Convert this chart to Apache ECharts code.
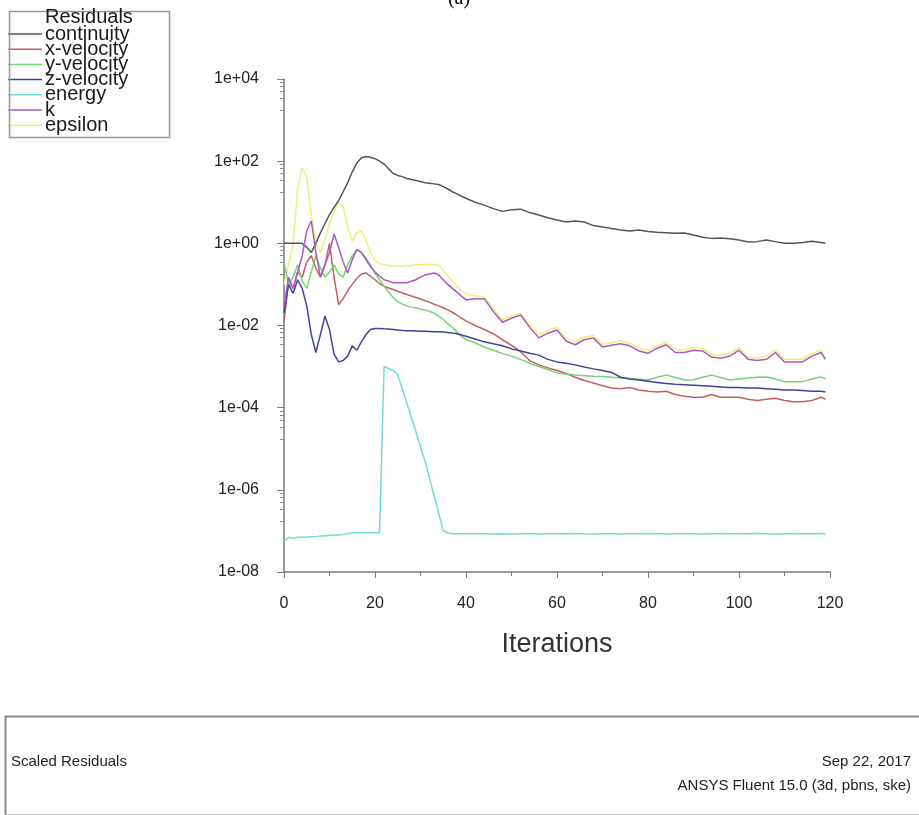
<!DOCTYPE html>
<html>
<head>
<meta charset="utf-8">
<script src="https://cdn.jsdelivr.net/npm/echarts@6/dist/echarts.min.js"></script>
<style>
html,body{margin:0;padding:0;background:#fff;}
#c{width:919px;height:815px;}
</style>
</head>
<body>
<div id="c"></div>
<script>
// ---- data ----
var iterations = [0,1,2,3,4,5,6,7,8,9,10,11,12,13,14,15,16,17,18,19,20,21,22,23,24,25,26,27,28,29,30,31,32,33,34,35,36,37,38,39,40,
  42,44,46,48,50,52,54,56,58,60,62,64,66,68,70,72,74,76,78,80,82,84,86,88,90,92,94,96,98,100,102,104,106,108,110,112,114,116,118,119];

var seriesNames = ['continuity','x-velocity','y-velocity','z-velocity','energy','k','epsilon'];
var xTickLabels = [0,20,40,60,80,100,120];

var continuity = [1,1,1,1,1,0.8,0.6,1.0,1.8,3,5,7.5,11,18,30,55,90,120,130,125,115,100,85,65,50,45,42,38,36,34,32,30,29,28,27,24,21,18,16,14,12.5,
  10,8.5,7,6.0,6.6,6.8,5.6,4.9,4.2,3.7,3.3,3.5,3.3,2.7,2.5,2.3,2.1,2.0,2.1,1.95,1.85,1.8,1.75,1.78,1.6,1.4,1.32,1.35,1.3,1.2,1.08,1.1,1.2,1.1,1.0,1.0,1.05,1.12,1.05,1.0];

var xVelocity = [0.012,0.12,0.08,0.2,0.15,0.35,0.5,0.25,0.15,0.3,1.0,0.15,0.032,0.045,0.07,0.1,0.14,0.18,0.19,0.16,0.13,0.105,0.09,0.082,0.075,0.068,0.062,0.057,0.052,0.048,0.044,0.04,0.037,0.033,0.03,0.027,0.024,0.021,0.018,0.015,0.013,
  0.01,0.008,0.0063,0.0045,0.0033,0.0023,0.0014,0.0011,0.00093,0.0008,0.00068,0.00055,0.00046,0.0004,0.00034,0.0003,0.00029,0.00031,0.00027,0.00025,0.00024,0.00025,0.00021,0.00019,0.00018,0.00018,0.00021,0.00018,0.00018,0.00018,0.00016,0.00015,0.00016,0.00017,0.00015,0.00014,0.00014,0.00015,0.00018,0.00016];

var yVelocity = [0.35,0.1,0.15,0.3,0.12,0.08,0.2,0.5,0.25,0.15,0.2,0.3,0.18,0.15,0.3,0.5,0.7,0.6,0.45,0.3,0.19,0.13,0.09,0.065,0.048,0.038,0.033,0.03,0.028,0.027,0.025,0.024,0.022,0.02,0.017,0.014,0.011,0.009,0.007,0.0055,0.0045,
  0.0038,0.003,0.0025,0.0021,0.0018,0.0015,0.0012,0.001,0.00085,0.0007,0.00066,0.00062,0.0006,0.00058,0.00057,0.00055,0.00053,0.00051,0.00049,0.00047,0.00055,0.00062,0.00054,0.00047,0.00048,0.00055,0.00062,0.00054,0.00047,0.0005,0.00053,0.00055,0.00056,0.0005,0.00043,0.00043,0.00043,0.0005,0.00056,0.0005];

var zVelocity = [0.02,0.1,0.06,0.13,0.08,0.03,0.006,0.0022,0.006,0.017,0.008,0.002,0.0013,0.0014,0.0018,0.0032,0.0025,0.004,0.006,0.008,0.0085,0.0085,0.0083,0.0082,0.008,0.0078,0.0076,0.0075,0.0074,0.0073,0.0072,0.0072,0.0071,0.007,0.007,0.0069,0.0068,0.0066,0.0063,0.0059,0.0055,
  0.0047,0.004,0.0036,0.0032,0.0027,0.0024,0.0021,0.0019,0.0015,0.0013,0.0012,0.0011,0.00098,0.00088,0.0008,0.00072,0.00055,0.0005,0.00047,0.00044,0.00041,0.00039,0.00037,0.00036,0.00035,0.00034,0.00033,0.00032,0.00031,0.00031,0.0003,0.0003,0.00029,0.00028,0.00027,0.00027,0.00026,0.00025,0.00025,0.00024];

var energy = [5.5e-8,7e-8,6.5e-8,7e-8,7e-8,7e-8,7.2e-8,7.2e-8,7.5e-8,7.5e-8,7.8e-8,8e-8,8e-8,8.2e-8,8.5e-8,9e-8,9e-8,9e-8,9e-8,9e-8,9e-8,9.2e-8,1.0e-3,9e-4,8e-4,6.5e-4,2.8e-4,1.3e-4,5.7e-5,2.6e-5,1.1e-5,5e-6,1.9e-6,7e-7,2.7e-7,1e-7,9e-8,8.5e-8,8.5e-8,8.5e-8,8.5e-8,
  8.5e-8,8.5e-8,8.4e-8,8.5e-8,8.4e-8,8.5e-8,8.5e-8,8.4e-8,8.5e-8,8.5e-8,8.5e-8,8.7e-8,8.5e-8,8.4e-8,8.5e-8,8.5e-8,8.4e-8,8.5e-8,8.5e-8,8.6e-8,8.5e-8,8.4e-8,8.5e-8,8.5e-8,8.5e-8,8.4e-8,8.5e-8,8.6e-8,8.5e-8,8.5e-8,8.5e-8,8.7e-8,8.5e-8,8.4e-8,8.5e-8,8.6e-8,8.5e-8,8.5e-8,8.6e-8,8.5e-8];

var kTurb = [0.03,0.15,0.08,0.2,0.5,2.0,3.5,0.6,0.15,0.3,0.6,1.7,0.8,0.35,0.19,0.4,0.7,0.6,0.4,0.27,0.2,0.16,0.13,0.12,0.11,0.11,0.11,0.11,0.12,0.13,0.15,0.17,0.18,0.19,0.17,0.13,0.1,0.08,0.065,0.052,0.042,
  0.045,0.045,0.022,0.012,0.015,0.018,0.009,0.005,0.0065,0.0078,0.0042,0.0034,0.0045,0.005,0.003,0.0033,0.0036,0.0032,0.0024,0.0021,0.0028,0.0034,0.0022,0.0022,0.0025,0.0024,0.0017,0.0016,0.0018,0.0025,0.0015,0.0014,0.0015,0.0022,0.0013,0.0013,0.0013,0.0018,0.0022,0.0015];

var epsilon = [0.1,0.3,1.0,20,70,40,5,1.0,0.6,1.2,3,6,10,8,2.5,1.1,1.8,2.0,1.2,0.6,0.38,0.32,0.3,0.29,0.28,0.28,0.28,0.29,0.29,0.3,0.3,0.31,0.31,0.3,0.29,0.22,0.16,0.12,0.09,0.072,0.058,
  0.052,0.05,0.026,0.014,0.017,0.02,0.0105,0.006,0.0075,0.009,0.005,0.004,0.0052,0.0057,0.0035,0.0038,0.0042,0.0037,0.0028,0.0025,0.0032,0.0039,0.0026,0.0025,0.0029,0.0028,0.002,0.0019,0.0021,0.0029,0.0017,0.0016,0.0018,0.0025,0.0015,0.0015,0.0015,0.0021,0.0025,0.0017];

var seriesValues = [continuity, xVelocity, yVelocity, zVelocity, energy, kTurb, epsilon];
var seriesColors = ['#555555','#c46060','#74d474','#42429c','#72dcd4','#a85ac2','#f0ee78'];

// ---- chart ----
var chart = echarts.init(document.getElementById('c'), null, {renderer:'canvas'});
var FONT = 'Liberation Sans, Arial, sans-serif';

function fmtExp(v){
  var e = Math.round(Math.log(v)/Math.LN10);
  var a = Math.abs(e);
  return '1e' + (e < 0 ? '-' : '+') + (a < 10 ? '0' : '') + a;
}

var series = seriesNames.map(function(name, s){
  return {
    name: name,
    type: 'line',
    symbol: 'none',
    animation: false,
    z: s === 6 ? 1 : 2,
    lineStyle: {width: 1.5, color: seriesColors[s]},
    itemStyle: {color: seriesColors[s]},
    data: iterations.map(function(it, i){ return [it, seriesValues[s][i]]; })
  };
});

chart.setOption({
  backgroundColor: '#ffffff',
  animation: false,
  grid: {left: 284, top: 79, width: 546, height: 493, containLabel: false},
  legend: {
    orient: 'vertical', left: 8, top: 24, padding: 0,
    icon: 'rect',
    itemWidth: 34, itemHeight: 1.5, itemGap: -4.8,
    selectedMode: false,
    textStyle: {fontSize: 20, fontFamily: FONT, color: '#1a1a1a', padding: [0, 0, 0, -2]},
    data: seriesNames
  },
  xAxis: {
    type: 'value', min: 0, max: 120, interval: 20,
    axisLine: {lineStyle: {color: '#7a7a7a', width: 1.5}},
    axisTick: {show: true, length: 6, lineStyle: {color: '#7a7a7a'}},
    minorTick: {show: true, splitNumber: 2, length: 4, lineStyle: {color: '#7a7a7a'}},
    splitLine: {show: false},
    axisLabel: {margin: 24, fontSize: 16, fontFamily: FONT, color: '#222',
      formatter: function(v){ return xTickLabels.indexOf(v) >= 0 ? String(v) : ''; }},
    name: 'Iterations', nameLocation: 'middle', nameGap: 59,
    nameTextStyle: {fontSize: 27, fontFamily: FONT, color: '#333'}
  },
  yAxis: {
    type: 'log', logBase: 10, min: 1e-8, max: 1e4, interval: 2,
    axisLine: {show: true, lineStyle: {color: '#7a7a7a', width: 1.5}},
    axisTick: {show: true, length: 7, lineStyle: {color: '#7a7a7a'}},
    minorTick: {show: true, splitNumber: 6, length: 4, lineStyle: {color: '#8a8a8a'}},
    splitLine: {show: false},
    axisLabel: {margin: 25, fontSize: 16, fontFamily: FONT, color: '#222', formatter: fmtExp}
  },
  graphic: [
    {type: 'rect', left: 7, top: 9, shape: {width: 160, height: 126}, style: {fill: 'none', stroke: '#999', lineWidth: 1.5}, z: 10},
    {type: 'text', left: 45, top: 7, style: {text: 'Residuals', fontSize: 20, fontFamily: FONT, fill: '#1a1a1a'}, z: 10},
    {type: 'text', x: 459, y: 9, style: {text: '(a)', fontSize: 20, fontFamily: 'Liberation Serif, serif', fill: '#000', align: 'center', verticalAlign: 'bottom'}},
    {type: 'rect', left: 3, top: 714, shape: {width: 960, height: 99}, style: {fill: 'none', stroke: '#8a8a8a', lineWidth: 2}},
    {type: 'text', x: 11, y: 762, style: {text: 'Scaled Residuals', fontSize: 15, fontFamily: FONT, fill: '#222', verticalAlign: 'middle'}},
    {type: 'text', x: 911, y: 762, style: {text: 'Sep 22, 2017', fontSize: 15, fontFamily: FONT, fill: '#222', align: 'right', verticalAlign: 'middle'}},
    {type: 'text', x: 911, y: 786, style: {text: 'ANSYS Fluent 15.0 (3d, pbns, ske)', fontSize: 15, fontFamily: FONT, fill: '#222', align: 'right', verticalAlign: 'middle'}}
  ],
  series: series
});
</script>
</body>
</html>
